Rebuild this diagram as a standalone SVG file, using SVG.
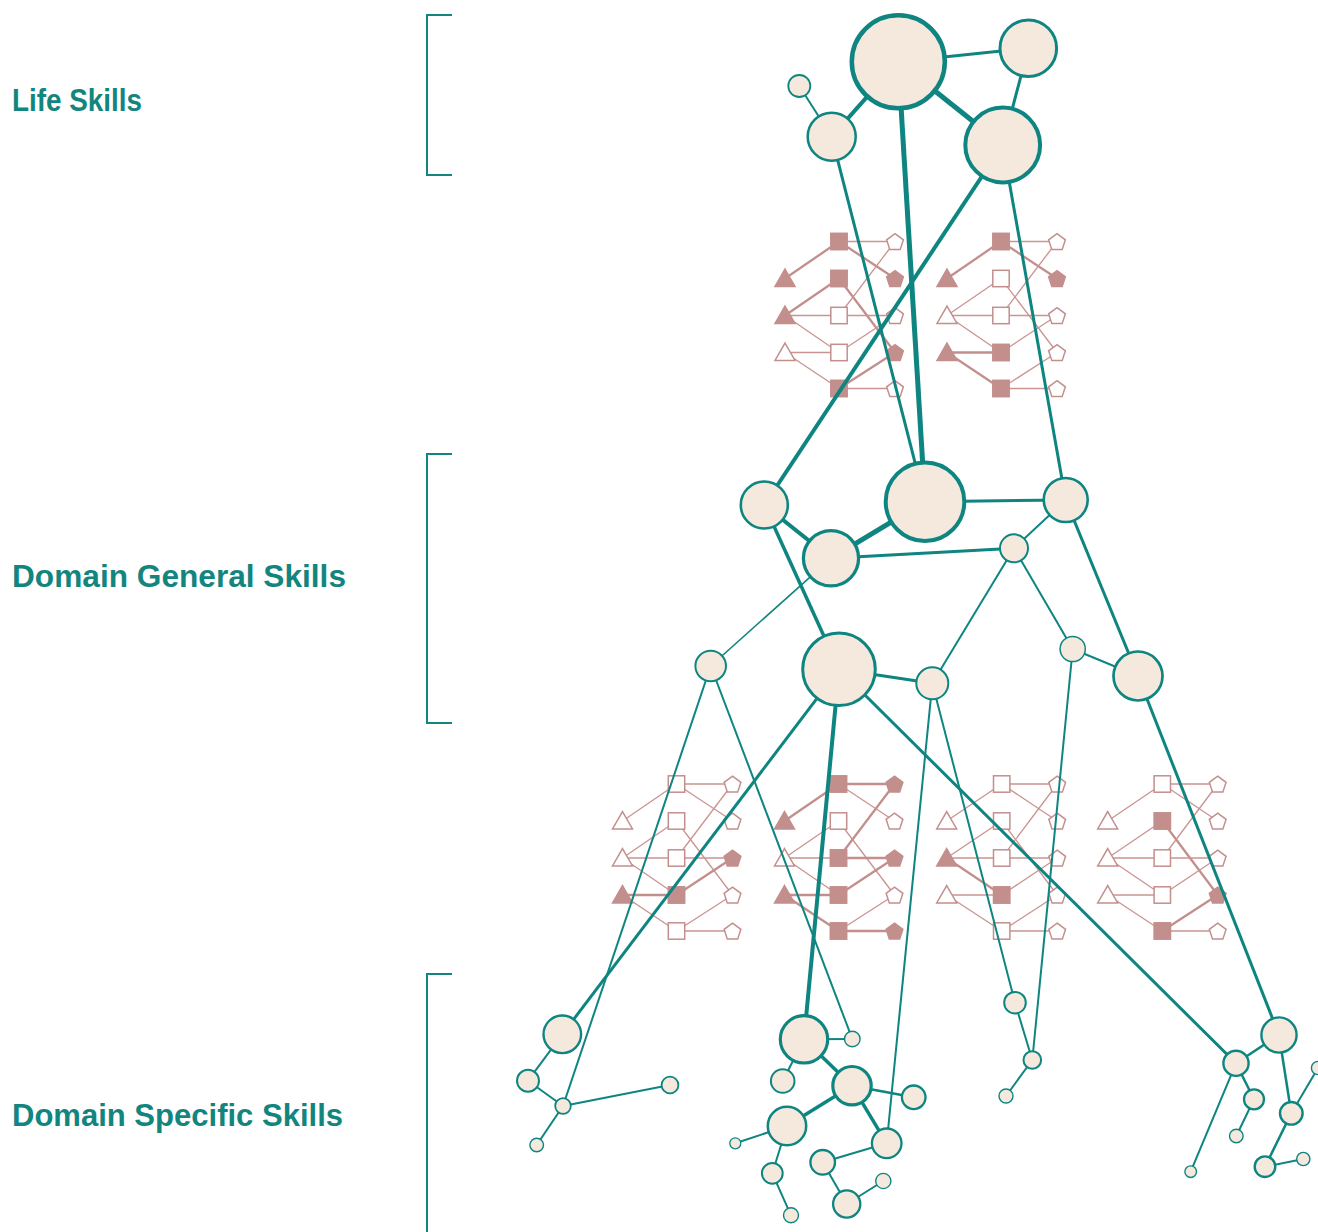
<svg xmlns="http://www.w3.org/2000/svg" xmlns:xlink="http://www.w3.org/1999/xlink" width="1318" height="1232" viewBox="0 0 1318 1232">
<style>
.lbl{font-family:"Liberation Sans",Arial,sans-serif;font-weight:bold;font-size:32px;fill:#12857f}
.br{fill:none;stroke:#12857f;stroke-width:2}
.n{fill:#f5e9dd;stroke:#0e8580}
.e line{stroke:#0e8580}
.pl line{stroke:#c99491;stroke-width:1.3}
.pl line.k{stroke:#c38f8d;stroke-width:2.3}
.pf{fill:#c38f8d;stroke:#c38f8d;stroke-width:1.5}
.po{fill:#ffffff;stroke:#c38f8d;stroke-width:1.5}
</style>
<defs>
<polygon id="triF" class="pf" points="0,-9.4 10,8 -10,8"/>
<polygon id="triO" class="po" points="0,-9.4 10,8 -10,8"/>
<rect id="sqF" class="pf" x="-8.2" y="-8.2" width="16.4" height="16.4"/>
<rect id="sqO" class="po" x="-8.2" y="-8.2" width="16.4" height="16.4"/>
<polygon id="peF" class="pf" points="0,-7.8 8.37,-1.72 5.17,8.12 -5.17,8.12 -8.37,-1.72"/>
<polygon id="peO" class="po" points="0,-7.8 8.37,-1.72 5.17,8.12 -5.17,8.12 -8.37,-1.72"/>
</defs>
<rect width="1318" height="1232" fill="#ffffff"/>

<g id="labels">
<text class="lbl" x="12" y="111" textLength="130" lengthAdjust="spacingAndGlyphs">Life Skills</text>
<text class="lbl" x="12" y="587" textLength="334" lengthAdjust="spacingAndGlyphs">Domain General Skills</text>
<text class="lbl" x="12" y="1126" textLength="331" lengthAdjust="spacingAndGlyphs">Domain Specific Skills</text>
</g>
<g id="brackets">
<polyline class="br" points="452,15 427,15 427,175 452,175"/>
<polyline class="br" points="452,454 427,454 427,723 452,723"/>
<polyline class="br" points="452,974 427,974 427,1232"/>
</g>

<!-- pink sub-networks -->
<g id="cluster-T1" transform="translate(785,241.5)">
<g class="pl"><line class="k" x1="0" y1="37" x2="54" y2="0"/><line x1="54" y1="0" x2="110" y2="0"/><line class="k" x1="54" y1="0" x2="110" y2="37"/><line class="k" x1="0" y1="74" x2="54" y2="37"/><line class="k" x1="54" y1="37" x2="110" y2="111"/><line x1="54" y1="74" x2="110" y2="0"/><line x1="0" y1="74" x2="54" y2="74"/><line x1="54" y1="74" x2="110" y2="74"/><line x1="0" y1="74" x2="54" y2="111"/><line x1="54" y1="111" x2="110" y2="74"/><line x1="0" y1="111" x2="54" y2="111"/><line x1="0" y1="111" x2="54" y2="147"/><line class="k" x1="54" y1="147" x2="110" y2="111"/><line x1="54" y1="147" x2="110" y2="147"/></g>
<use href="#triF" x="0" y="37"/><use href="#triF" x="0" y="74"/><use href="#triO" x="0" y="111"/>
<use href="#sqF" x="54" y="0"/><use href="#sqF" x="54" y="37"/><use href="#sqO" x="54" y="74"/><use href="#sqO" x="54" y="111"/><use href="#sqF" x="54" y="147"/>
<use href="#peO" x="110" y="0"/><use href="#peF" x="110" y="37"/><use href="#peO" x="110" y="74"/><use href="#peF" x="110" y="111"/><use href="#peO" x="110" y="147"/>
</g>
<g id="cluster-T2" transform="translate(947,241.5)">
<g class="pl"><line class="k" x1="0" y1="37" x2="54" y2="0"/><line x1="54" y1="0" x2="110" y2="0"/><line class="k" x1="54" y1="0" x2="110" y2="37"/><line x1="0" y1="74" x2="54" y2="37"/><line x1="54" y1="37" x2="110" y2="111"/><line x1="54" y1="74" x2="110" y2="0"/><line x1="0" y1="74" x2="54" y2="74"/><line x1="54" y1="74" x2="110" y2="74"/><line x1="0" y1="74" x2="54" y2="111"/><line x1="54" y1="111" x2="110" y2="74"/><line class="k" x1="0" y1="111" x2="54" y2="111"/><line class="k" x1="0" y1="111" x2="54" y2="147"/><line x1="54" y1="147" x2="110" y2="111"/><line x1="54" y1="147" x2="110" y2="147"/></g>
<use href="#triF" x="0" y="37"/><use href="#triO" x="0" y="74"/><use href="#triF" x="0" y="111"/>
<use href="#sqF" x="54" y="0"/><use href="#sqO" x="54" y="37"/><use href="#sqO" x="54" y="74"/><use href="#sqF" x="54" y="111"/><use href="#sqF" x="54" y="147"/>
<use href="#peO" x="110" y="0"/><use href="#peF" x="110" y="37"/><use href="#peO" x="110" y="74"/><use href="#peO" x="110" y="111"/><use href="#peO" x="110" y="147"/>
</g>
<g id="cluster-B1" transform="translate(622.5,784)">
<g class="pl"><line x1="0" y1="37" x2="54" y2="0"/><line x1="54" y1="0" x2="110" y2="0"/><line x1="54" y1="0" x2="110" y2="37"/><line x1="0" y1="74" x2="54" y2="37"/><line x1="54" y1="37" x2="110" y2="111"/><line x1="54" y1="74" x2="110" y2="0"/><line x1="0" y1="74" x2="54" y2="74"/><line x1="54" y1="74" x2="110" y2="74"/><line x1="0" y1="74" x2="54" y2="111"/><line class="k" x1="54" y1="111" x2="110" y2="74"/><line class="k" x1="0" y1="111" x2="54" y2="111"/><line x1="0" y1="111" x2="54" y2="147"/><line x1="54" y1="147" x2="110" y2="111"/><line x1="54" y1="147" x2="110" y2="147"/></g>
<use href="#triO" x="0" y="37"/><use href="#triO" x="0" y="74"/><use href="#triF" x="0" y="111"/>
<use href="#sqO" x="54" y="0"/><use href="#sqO" x="54" y="37"/><use href="#sqO" x="54" y="74"/><use href="#sqF" x="54" y="111"/><use href="#sqO" x="54" y="147"/>
<use href="#peO" x="110" y="0"/><use href="#peO" x="110" y="37"/><use href="#peF" x="110" y="74"/><use href="#peO" x="110" y="111"/><use href="#peO" x="110" y="147"/>
</g>
<g id="cluster-B2" transform="translate(784.5,784)">
<g class="pl"><line class="k" x1="0" y1="37" x2="54" y2="0"/><line class="k" x1="54" y1="0" x2="110" y2="0"/><line x1="54" y1="0" x2="110" y2="37"/><line x1="0" y1="74" x2="54" y2="37"/><line x1="54" y1="37" x2="110" y2="111"/><line class="k" x1="54" y1="74" x2="110" y2="0"/><line x1="0" y1="74" x2="54" y2="74"/><line class="k" x1="54" y1="74" x2="110" y2="74"/><line x1="0" y1="74" x2="54" y2="111"/><line class="k" x1="54" y1="111" x2="110" y2="74"/><line class="k" x1="0" y1="111" x2="54" y2="111"/><line class="k" x1="0" y1="111" x2="54" y2="147"/><line x1="54" y1="147" x2="110" y2="111"/><line class="k" x1="54" y1="147" x2="110" y2="147"/></g>
<use href="#triF" x="0" y="37"/><use href="#triO" x="0" y="74"/><use href="#triF" x="0" y="111"/>
<use href="#sqF" x="54" y="0"/><use href="#sqO" x="54" y="37"/><use href="#sqF" x="54" y="74"/><use href="#sqF" x="54" y="111"/><use href="#sqF" x="54" y="147"/>
<use href="#peF" x="110" y="0"/><use href="#peO" x="110" y="37"/><use href="#peF" x="110" y="74"/><use href="#peO" x="110" y="111"/><use href="#peF" x="110" y="147"/>
</g>
<g id="cluster-B3" transform="translate(946.7,784)">
<g class="pl"><line x1="0" y1="37" x2="55" y2="0"/><line x1="55" y1="0" x2="110.5" y2="0"/><line x1="55" y1="0" x2="110.5" y2="37"/><line x1="0" y1="74" x2="55" y2="37"/><line x1="55" y1="37" x2="110.5" y2="111"/><line x1="55" y1="74" x2="110.5" y2="0"/><line x1="0" y1="74" x2="55" y2="74"/><line x1="55" y1="74" x2="110.5" y2="74"/><line class="k" x1="0" y1="74" x2="55" y2="111"/><line x1="55" y1="111" x2="110.5" y2="74"/><line x1="0" y1="111" x2="55" y2="111"/><line x1="0" y1="111" x2="55" y2="147"/><line x1="55" y1="147" x2="110.5" y2="111"/><line x1="55" y1="147" x2="110.5" y2="147"/></g>
<use href="#triO" x="0" y="37"/><use href="#triF" x="0" y="74"/><use href="#triO" x="0" y="111"/>
<use href="#sqO" x="55" y="0"/><use href="#sqO" x="55" y="37"/><use href="#sqO" x="55" y="74"/><use href="#sqF" x="55" y="111"/><use href="#sqO" x="55" y="147"/>
<use href="#peO" x="110.5" y="0"/><use href="#peO" x="110.5" y="37"/><use href="#peO" x="110.5" y="74"/><use href="#peO" x="110.5" y="111"/><use href="#peO" x="110.5" y="147"/>
</g>
<g id="cluster-B4" transform="translate(1107.7,784)">
<g class="pl"><line x1="0" y1="37" x2="54.6" y2="0"/><line x1="54.6" y1="0" x2="110" y2="0"/><line x1="54.6" y1="0" x2="110" y2="37"/><line x1="0" y1="74" x2="54.6" y2="37"/><line class="k" x1="54.6" y1="37" x2="110" y2="111"/><line x1="54.6" y1="74" x2="110" y2="0"/><line x1="0" y1="74" x2="54.6" y2="74"/><line x1="54.6" y1="74" x2="110" y2="74"/><line x1="0" y1="74" x2="54.6" y2="111"/><line x1="54.6" y1="111" x2="110" y2="74"/><line x1="0" y1="111" x2="54.6" y2="111"/><line x1="0" y1="111" x2="54.6" y2="147"/><line class="k" x1="54.6" y1="147" x2="110" y2="111"/><line x1="54.6" y1="147" x2="110" y2="147"/></g>
<use href="#triO" x="0" y="37"/><use href="#triO" x="0" y="74"/><use href="#triO" x="0" y="111"/>
<use href="#sqO" x="54.6" y="0"/><use href="#sqF" x="54.6" y="37"/><use href="#sqO" x="54.6" y="74"/><use href="#sqO" x="54.6" y="111"/><use href="#sqF" x="54.6" y="147"/>
<use href="#peO" x="110" y="0"/><use href="#peO" x="110" y="37"/><use href="#peO" x="110" y="74"/><use href="#peF" x="110" y="111"/><use href="#peO" x="110" y="147"/>
</g>

<!-- teal connectors -->
<g id="connectors" class="e">
<line x1="898.3" y1="61.7" x2="1028.3" y2="48.3" stroke-width="3"/>
<line x1="1028.3" y1="48.3" x2="1002.7" y2="145" stroke-width="3"/>
<line x1="898.3" y1="61.7" x2="1002.7" y2="145" stroke-width="5"/>
<line x1="898.3" y1="61.7" x2="831.7" y2="136.7" stroke-width="4"/>
<line x1="799.3" y1="86" x2="831.7" y2="136.7" stroke-width="2"/>
<line x1="898.3" y1="61.7" x2="925" y2="501.7" stroke-width="5"/>
<line x1="831.7" y1="136.7" x2="925" y2="501.7" stroke-width="3"/>
<line x1="1002.7" y1="145" x2="764.3" y2="505" stroke-width="4"/>
<line x1="1002.7" y1="145" x2="1065.7" y2="500" stroke-width="3"/>

<line x1="764.3" y1="505" x2="831" y2="558.3" stroke-width="4"/>
<line x1="925" y1="501.7" x2="831" y2="558.3" stroke-width="5"/>
<line x1="925" y1="501.7" x2="1065.7" y2="500" stroke-width="3"/>
<line x1="1065.7" y1="500" x2="1014" y2="548.3" stroke-width="2"/>
<line x1="831" y1="558.3" x2="1014" y2="548.3" stroke-width="3"/>
<line x1="831" y1="558.3" x2="710.7" y2="666" stroke-width="1.6"/>
<line x1="764.3" y1="505" x2="839" y2="669.3" stroke-width="3.5"/>
<line x1="839" y1="669.3" x2="932.3" y2="683.3" stroke-width="3"/>
<line x1="1014" y1="548.3" x2="932.3" y2="683.3" stroke-width="2"/>
<line x1="1014" y1="548.3" x2="1072.7" y2="649" stroke-width="2"/>
<line x1="1072.7" y1="649" x2="1138" y2="676" stroke-width="2"/>
<line x1="1065.7" y1="500" x2="1138" y2="676" stroke-width="3"/>

<line x1="710.7" y1="666" x2="563" y2="1106" stroke-width="2"/>
<line x1="710.7" y1="666" x2="852.3" y2="1039" stroke-width="2"/>
<line x1="839" y1="669.3" x2="562.3" y2="1034.3" stroke-width="3"/>
<line x1="839" y1="669.3" x2="804" y2="1039.3" stroke-width="4"/>
<line x1="839" y1="669.3" x2="1236" y2="1063.3" stroke-width="3"/>
<line x1="932.3" y1="683.3" x2="1015" y2="1002.7" stroke-width="2"/>
<line x1="932.3" y1="683.3" x2="886.7" y2="1143.3" stroke-width="2"/>
<line x1="1072.7" y1="649" x2="1032.3" y2="1060" stroke-width="2"/>
<line x1="1138" y1="676" x2="1279" y2="1035" stroke-width="3"/>

<line x1="562.3" y1="1034.3" x2="528" y2="1080.7" stroke-width="2"/>
<line x1="528" y1="1080.7" x2="563" y2="1106" stroke-width="2"/>
<line x1="563" y1="1106" x2="670" y2="1085" stroke-width="2"/>
<line x1="563" y1="1106" x2="536.7" y2="1145" stroke-width="2"/>

<line x1="804" y1="1039.3" x2="852.3" y2="1039" stroke-width="2"/>
<line x1="804" y1="1039.3" x2="782.7" y2="1081" stroke-width="2"/>
<line x1="804" y1="1039.3" x2="852" y2="1085.7" stroke-width="3.5"/>
<line x1="852" y1="1085.7" x2="913.7" y2="1097.3" stroke-width="2.5"/>
<line x1="852" y1="1085.7" x2="787" y2="1126" stroke-width="3.5"/>
<line x1="852" y1="1085.7" x2="886.7" y2="1143.3" stroke-width="3.5"/>
<line x1="787" y1="1126" x2="735.3" y2="1143.3" stroke-width="2"/>
<line x1="787" y1="1126" x2="772.3" y2="1173.3" stroke-width="2"/>
<line x1="772.3" y1="1173.3" x2="791" y2="1215.3" stroke-width="2"/>
<line x1="886.7" y1="1143.3" x2="822.7" y2="1162.3" stroke-width="2"/>
<line x1="822.7" y1="1162.3" x2="846.7" y2="1204" stroke-width="2"/>
<line x1="846.7" y1="1204" x2="883.3" y2="1181" stroke-width="2"/>

<line x1="1015" y1="1002.7" x2="1032.3" y2="1060" stroke-width="2"/>
<line x1="1032.3" y1="1060" x2="1006" y2="1096" stroke-width="2"/>

<line x1="1279" y1="1035" x2="1236" y2="1063.3" stroke-width="2.5"/>
<line x1="1236" y1="1063.3" x2="1254" y2="1099.3" stroke-width="2.5"/>
<line x1="1254" y1="1099.3" x2="1236.3" y2="1136" stroke-width="2"/>
<line x1="1236" y1="1063.3" x2="1190.7" y2="1171.7" stroke-width="2"/>
<line x1="1279" y1="1035" x2="1291.3" y2="1113.3" stroke-width="2.5"/>
<line x1="1291.3" y1="1113.3" x2="1318" y2="1068" stroke-width="2"/>
<line x1="1291.3" y1="1113.3" x2="1265" y2="1166.7" stroke-width="2.5"/>
<line x1="1265" y1="1166.7" x2="1303.3" y2="1159" stroke-width="2"/>
</g>

<!-- nodes -->
<g id="life-1"><circle class="n" cx="898.3" cy="61.7" r="46.5" stroke-width="4.5"/></g>
<g id="life-2"><circle class="n" cx="1028.3" cy="48.3" r="28.3" stroke-width="3"/></g>
<g id="life-3"><circle class="n" cx="799.3" cy="86" r="11" stroke-width="1.8"/></g>
<g id="life-4"><circle class="n" cx="831.7" cy="136.7" r="24" stroke-width="2.5"/></g>
<g id="life-5"><circle class="n" cx="1002.7" cy="145" r="37.4" stroke-width="4"/></g>

<g id="gen-1"><circle class="n" cx="764.3" cy="505" r="23.5" stroke-width="2.6"/></g>
<g id="gen-2"><circle class="n" cx="925" cy="501.7" r="39.3" stroke-width="4"/></g>
<g id="gen-3"><circle class="n" cx="1065.7" cy="500" r="22" stroke-width="2.6"/></g>
<g id="gen-4"><circle class="n" cx="831" cy="558.3" r="27.6" stroke-width="3.3"/></g>
<g id="gen-5"><circle class="n" cx="1014" cy="548.3" r="14" stroke-width="2"/></g>
<g id="gen-6"><circle class="n" cx="710.7" cy="666" r="15.3" stroke-width="2"/></g>
<g id="gen-7"><circle class="n" cx="839" cy="669.3" r="36.3" stroke-width="3"/></g>
<g id="gen-8"><circle class="n" cx="932.3" cy="683.3" r="16" stroke-width="2"/></g>
<g id="gen-9"><circle class="n" cx="1072.7" cy="649" r="12.6" stroke-width="1.5"/></g>
<g id="gen-10"><circle class="n" cx="1138" cy="676" r="24.5" stroke-width="2.7"/></g>

<g id="spec-n1"><circle class="n" cx="562.3" cy="1034.3" r="18.8" stroke-width="2.4"/></g>
<g id="spec-n2"><circle class="n" cx="528" cy="1080.7" r="11" stroke-width="2"/></g>
<g id="spec-n3"><circle class="n" cx="563" cy="1106" r="7.8" stroke-width="1.8"/></g>
<g id="spec-n4"><circle class="n" cx="670" cy="1085" r="8.4" stroke-width="1.8"/></g>
<g id="spec-n5"><circle class="n" cx="536.7" cy="1145" r="6.8" stroke-width="1.4"/></g>

<g id="spec-m1"><circle class="n" cx="804" cy="1039.3" r="23.7" stroke-width="3.2"/></g>
<g id="spec-m2"><circle class="n" cx="852.3" cy="1039" r="7.8" stroke-width="1.4"/></g>
<g id="spec-m3"><circle class="n" cx="782.7" cy="1081" r="11.8" stroke-width="2"/></g>
<g id="spec-m4"><circle class="n" cx="852" cy="1085.7" r="19.2" stroke-width="3.2"/></g>
<g id="spec-m5"><circle class="n" cx="913.7" cy="1097.3" r="11.8" stroke-width="2.3"/></g>
<g id="spec-m6"><circle class="n" cx="787" cy="1126" r="19.2" stroke-width="2.5"/></g>
<g id="spec-m7"><circle class="n" cx="735.3" cy="1143.3" r="5.5" stroke-width="1.3"/></g>
<g id="spec-m8"><circle class="n" cx="886.7" cy="1143.3" r="14.8" stroke-width="2.3"/></g>
<g id="spec-m9"><circle class="n" cx="772.3" cy="1173.3" r="10.4" stroke-width="2"/></g>
<g id="spec-m10"><circle class="n" cx="822.7" cy="1162.3" r="12.3" stroke-width="2.3"/></g>
<g id="spec-m11"><circle class="n" cx="791" cy="1215.3" r="7.5" stroke-width="1.4"/></g>
<g id="spec-m12"><circle class="n" cx="846.7" cy="1204" r="13.6" stroke-width="2.3"/></g>
<g id="spec-m13"><circle class="n" cx="883.3" cy="1181" r="7.6" stroke-width="1.4"/></g>

<g id="spec-p1"><circle class="n" cx="1015" cy="1002.7" r="10.8" stroke-width="2"/></g>
<g id="spec-p2"><circle class="n" cx="1032.3" cy="1060" r="8.8" stroke-width="2"/></g>
<g id="spec-p3"><circle class="n" cx="1006" cy="1096" r="7" stroke-width="1.4"/></g>

<g id="spec-q1"><circle class="n" cx="1279" cy="1035" r="17.6" stroke-width="2.4"/></g>
<g id="spec-q2"><circle class="n" cx="1236" cy="1063.3" r="12.6" stroke-width="2.4"/></g>
<g id="spec-q3"><circle class="n" cx="1254" cy="1099.3" r="10" stroke-width="2.3"/></g>
<g id="spec-q4"><circle class="n" cx="1236.3" cy="1136" r="6.8" stroke-width="1.4"/></g>
<g id="spec-q5"><circle class="n" cx="1190.7" cy="1171.7" r="5.8" stroke-width="1.4"/></g>
<g id="spec-q6"><circle class="n" cx="1291.3" cy="1113.3" r="11.3" stroke-width="2.4"/></g>
<g id="spec-q7"><circle class="n" cx="1265" cy="1166.7" r="10.3" stroke-width="2.4"/></g>
<g id="spec-q8"><circle class="n" cx="1303.3" cy="1159" r="6.6" stroke-width="1.4"/></g>
<g id="spec-q9"><circle class="n" cx="1318" cy="1068" r="6.6" stroke-width="1.4"/></g>
</svg>
